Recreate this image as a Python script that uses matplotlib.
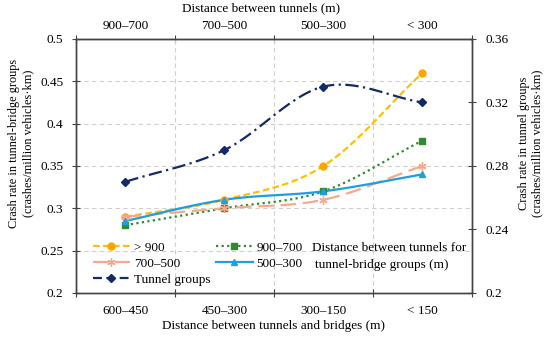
import matplotlib
matplotlib.use("Agg")
import matplotlib.pyplot as plt
import numpy as np

plt.rcParams["font.family"] = ["Liberation Serif", "DejaVu Serif"]
plt.rcParams["font.size"] = 9.5

bridge_cats = ["600–450", "450–300", "300–150", "< 150"]
tunnel_cats = ["900–700", "700–500", "500–300", "< 300"]

gt900 = [0.29, 0.31, 0.35, 0.46]
d900_700 = [0.28, 0.30, 0.32, 0.38]
d700_500 = [0.29, 0.30, 0.31, 0.35]
d500_300 = [0.285, 0.31, 0.32, 0.34]
tunnel_groups = [0.27, 0.29, 0.33, 0.32]


def smooth(x, y, n=30):
    # Catmull-Rom curve through the points, for drawing only
    x = np.asarray(x, float)
    y = np.asarray(y, float)
    px = np.concatenate([[2 * x[0] - x[1]], x, [2 * x[-1] - x[-2]]])
    py = np.concatenate([[2 * y[0] - y[1]], y, [2 * y[-1] - y[-2]]])
    xs, ys = [], []
    t = np.linspace(0, 1, n)
    for i in range(1, len(px) - 2):
        for p, out in ((px, xs), (py, ys)):
            p0, p1, p2, p3 = p[i - 1], p[i], p[i + 1], p[i + 2]
            out.extend(0.5 * ((2 * p1) + (-p0 + p2) * t
                              + (2 * p0 - 5 * p1 + 4 * p2 - p3) * t ** 2
                              + (-p0 + 3 * p1 - 3 * p2 + p3) * t ** 3))
    return np.array(xs), np.array(ys)


x = np.arange(len(bridge_cats)) + 0.5

fig, ax = plt.subplots(figsize=(5.5, 3.39), dpi=100)
fig.subplots_adjust(left=0.138, right=0.858, top=0.885, bottom=0.136)
ax2 = ax.twinx()

series = [
    (gt900, "> 900", "#FFC000", (0, (3, 1.5)), "o", "#FFA500", 5),
    (d900_700, "900–700", "#2E8B2E", (0, (1, 1.5)), "s", "#2E8B2E", 5),
    (d700_500, "700–500", "#F7A98B", (0, (7, 3)), (6, 2, 0), "#F7A98B", 6),
    (d500_300, "500–300", "#1E9FE0", "-", "^", "#1E9FE0", 5),
]
handles = {}
for vals, lab, col, ls, mk, mcol, ms in series:
    sx, sy = smooth(x, vals)
    ax.plot(sx, sy, color=col, linestyle=ls, lw=1.6, zorder=3)
    ax.plot(x, vals, linestyle="none", marker=mk, color=mcol, ms=ms, zorder=4)
    handles[lab] = plt.Line2D([], [], color=col, linestyle=ls, lw=1.6,
                              marker=mk, markerfacecolor=mcol, markeredgecolor=mcol, ms=ms)

sx, sy = smooth(x, tunnel_groups)
ax2.plot(sx, sy, color="#132968", linestyle=(0, (6, 2, 1, 2)), lw=1.6, zorder=3)
ax2.plot(x, tunnel_groups, linestyle="none", marker="D", color="#132968", ms=4.5, zorder=4)
handles["Tunnel groups"] = plt.Line2D([], [], color="#132968", linestyle=(0, (4, 2)),
                                      lw=1.6, marker="D", ms=4.5)

ax.set_xlim(0, 4)
ax.set_ylim(0.2, 0.5)
ax.set_yticks(np.arange(0.2, 0.501, 0.05))
ax.set_yticklabels(["0.2", "0.25", "0.3", "0.35", "0.4", "0.45", "0.5"])
ax2.set_ylim(0.2, 0.36)
ax2.set_yticks([0.2, 0.24, 0.28, 0.32, 0.36])
ax2.set_yticklabels(["0.2", "0.24", "0.28", "0.32", "0.36"])

ax.set_xticks([0, 1, 2, 3, 4])
ax.set_xticklabels([])
ax.set_xticks(x, minor=True)
ax.set_xticklabels(bridge_cats, minor=True)
ax.tick_params(axis="x", which="minor", length=0, pad=9)
ax.tick_params(axis="x", which="major", direction="inout", length=6, color="#444444")
ax.tick_params(axis="y", direction="inout", length=6, color="#444444", pad=6)
ax2.tick_params(axis="y", direction="inout", length=6, color="#444444", pad=7)

top = ax.secondary_xaxis("top")
top.set_xticks([0, 1, 2, 3, 4])
top.set_xticklabels([])
top.set_xticks(x, minor=True)
top.set_xticklabels(tunnel_cats, minor=True)
top.tick_params(axis="x", which="minor", length=0, pad=5)
top.tick_params(axis="x", which="major", direction="inout", length=6, color="#444444")
fig.text(0.474, 0.976, "Distance between tunnels (m)", ha="center", va="center", fontsize=9.5)

ax.grid(True, which="major", color="#D0D0D0", linestyle=(0, (4, 3)), lw=0.8)
ax.set_axisbelow(True)

for a in (ax, ax2):
    for s in a.spines.values():
        s.set_color("#444444")
        s.set_linewidth(1.0)
top.spines["top"].set_color("#444444")

ax.set_xlabel("Distance between tunnels and bridges (m)", labelpad=2)
ax.set_ylabel("Crash rate in tunnel-bridge groups\n(crashes/million vehicles·km)", fontsize=8.8)
ax.yaxis.set_label_coords(-0.106, 0.59)
ax2.set_ylabel("Crash rate in tunnel groups\n(crashes/million vehicles·km)", fontsize=8.8)
ax2.yaxis.set_label_coords(1.116, 0.59)

order = ["> 900", "700–500", "Tunnel groups", "900–700", "500–300"]
leg = ax.legend([handles[k] for k in order], order, ncol=2, loc="upper left",
                bbox_to_anchor=(0.043, 0.203), frameon=False, handlelength=2.8,
                handletextpad=0.3, columnspacing=0.4, labelspacing=0.3,
                borderpad=0, borderaxespad=0, fontsize=9.5)
ax.text(0.596, 0.177, "Distance between tunnels for", transform=ax.transAxes,
        ha="left", va="center", fontsize=9.5)
ax.text(0.603, 0.110, "tunnel-bridge groups (m)", transform=ax.transAxes,
        ha="left", va="center", fontsize=9.5)

fig.savefig("out.png", dpi=100)
